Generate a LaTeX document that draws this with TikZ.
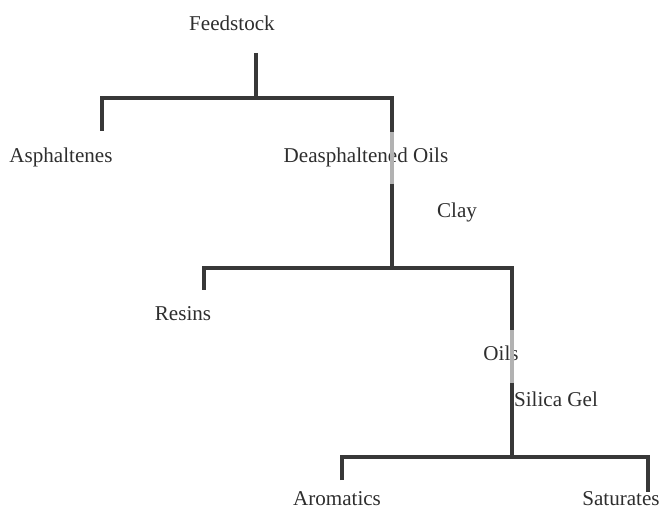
\documentclass[tikz,border=0pt]{standalone}
\usepackage{fontspec}
\setmainfont{Liberation Serif}

\begin{document}
\begin{tikzpicture}[
    x=0.03cm, y=-0.03cm,
    lbl/.style={
      font=\fontsize{18}{20}\selectfont,
      text=black!82,
      inner sep=0pt,
      anchor=base
    },
    branch/.style={line width=2.6pt, draw=black!78},
    pass/.style={line width=2.6pt, draw=black!30}
  ]

  \path[use as bounding box] (0,0) rectangle (660,510);

  % Row anchors (bars)
  \def\yBarA{98}
  \def\yBarB{268}
  \def\yBarC{457}

  % Stems
  \def\xStemA{256}
  \def\xStemB{392}
  \def\xStemC{512}

  % =====================================================
  % LABELS
  % =====================================================
  \node[lbl] (feed)   at (232,31)  {Feedstock};
  \node[lbl] (asph)   at (61,163)  {Asphaltenes};
  \node[lbl] (deasph) at (366,163) {Deasphaltened Oils};
  \node[lbl] (clay)   at (457,218) {Clay};
  \node[lbl] (resins) at (183,321) {Resins};
  \node[lbl] (oils)   at (501,360) {Oils};
  \node[lbl] (silica) at (556,406) {Silica Gel};
  \node[lbl] (arom)   at (337,505) {Aromatics};
  \node[lbl] (sat)    at (621,505) {Saturates};

  % =====================================================
  % JUNCTIONS
  % =====================================================
  \coordinate (feedEnd) at (\xStemA,53);
  \coordinate (barA)    at (\xStemA,\yBarA);
  \coordinate (barAL)   at (102,\yBarA);
  \coordinate (barAR)   at (\xStemB,\yBarA);
  \coordinate (asphEnd) at (102,131);
  \coordinate (deaTop)  at (\xStemB,132);
  \coordinate (deaBot)  at (\xStemB,184);

  \coordinate (barB)    at (\xStemB,\yBarB);
  \coordinate (barBL)   at (204,\yBarB);
  \coordinate (barBR)   at (\xStemC,\yBarB);
  \coordinate (resEnd)  at (204,290);
  \coordinate (oilTop)  at (\xStemC,330);
  \coordinate (oilBot)  at (\xStemC,383);

  \coordinate (barC)    at (\xStemC,\yBarC);
  \coordinate (barCL)   at (342,\yBarC);
  \coordinate (barCR)   at (648,\yBarC);
  \coordinate (aroEnd)  at (342,480);
  \coordinate (satEnd)  at (648,492);

  % =====================================================
  % TREE
  % =====================================================

  % Feedstock split
  \draw[branch] (feedEnd) -- (barA);
  \draw[branch] (asphEnd) -- (barAL) -- (barAR) -- (deaTop);
  \draw[pass] (deaTop) -- (deaBot);
  \draw[branch] (deaBot) -- (barB);

  % Clay split
  \draw[branch] (resEnd) -- (barBL) -- (barBR) -- (oilTop);
  \draw[pass] (oilTop) -- (oilBot);
  \draw[branch] (oilBot) -- (barC);

  % Silica gel split
  \draw[branch] (aroEnd) -- (barCL) -- (barCR) -- (satEnd);

\end{tikzpicture}
\end{document}
